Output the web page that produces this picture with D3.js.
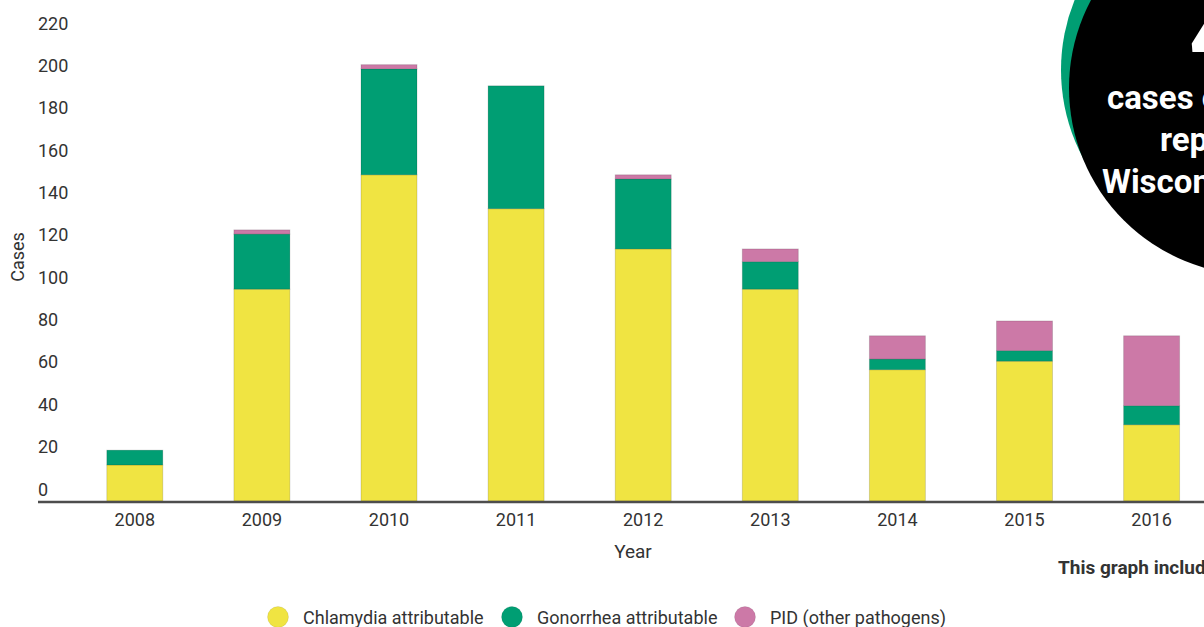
<!DOCTYPE html>
<html>
<head>
<meta charset="utf-8">
<script src="https://cdn.jsdelivr.net/npm/d3@7"></script>
<style>
  html, body { margin: 0; padding: 0; background: #fff; overflow: hidden; }
  svg { display: block; font-family: Roboto, "Noto Sans", sans-serif; }
</style>
</head>
<body>
<svg id="chart" width="1204" height="627"></svg>
<script>
// ---- data ----
const years = ["2008","2009","2010","2011","2012","2013","2014","2015","2016"];
const chlamydia = [17, 100, 154, 138, 119, 100, 62, 66, 36];
const gonorrhea = [7, 26, 50, 58, 33, 13, 5, 5, 9];
const pidOther  = [0, 2, 2, 0, 2, 6, 11, 14, 33];
const seriesNames = ["Chlamydia attributable", "Gonorrhea attributable", "PID (other pathogens)"];
const seriesColors = ["#F0E442", "#009E73", "#CC79A7"];
const yTicks = [0, 20, 40, 60, 80, 100, 120, 140, 160, 180, 200, 220];

const svg = d3.select("#chart");
const W = 1204, H = 627;

const rows = years.map((yr, i) => ({ year: yr, c: chlamydia[i], g: gonorrhea[i], p: pidOther[i] }));
const keys = ["c", "g", "p"];
const stack = d3.stack().keys(keys)(rows);

const step = 127.1;
const x = d3.scaleBand().domain(years)
  .range([71.25, 71.25 + step * years.length])
  .paddingInner(1 - 56 / step).paddingOuter((1 - 56 / step) / 2);
const y = d3.scaleLinear().domain([0, 220]).range([501, 35]);

// bars
const gBars = svg.append("g");
stack.forEach((layer, li) => {
  gBars.append("g").selectAll("rect").data(layer.filter(d => d[1] > d[0])).join("rect")
    .attr("x", d => x(d.data.year))
    .attr("width", x.bandwidth())
    .attr("y", d => y(d[1]))
    .attr("height", d => Math.max(0, y(d[0]) - y(d[1])))
    .attr("fill", seriesColors[li])
    .attr("stroke", "rgba(0,0,0,0.14)")
    .attr("stroke-width", 1);
});

// y axis (labels sit above their values)
const yAxis = d3.axisRight(y).tickValues(yTicks).tickSize(0).tickPadding(0);
const gy = svg.append("g").attr("transform", "translate(38,0)").call(yAxis);
gy.select(".domain").remove();
gy.selectAll("text")
  .attr("x", 0).attr("dy", "-6px")
  .attr("text-anchor", "start")
  .attr("fill", "#333").style("font-size", "18px")
  .style("font-family", "Roboto, sans-serif");

// x axis
const xAxis = d3.axisBottom(x).tickSize(0).tickPadding(11);
const gx = svg.append("g").attr("transform", "translate(0,502)").call(xAxis);
gx.select(".domain").remove();
gx.selectAll("text").attr("fill", "#333").style("font-size", "18px")
  .style("font-family", "Roboto, sans-serif");

svg.append("line").attr("x1", 38).attr("x2", W).attr("y1", 502).attr("y2", 502)
  .attr("stroke", "#4d4d4d").attr("stroke-width", 2.5);

// axis titles
svg.append("text").attr("x", 633).attr("y", 558).attr("text-anchor", "middle")
  .attr("fill", "#333").style("font-size", "19px").text("Year");
svg.append("text").attr("transform", "translate(24,257) rotate(-90)")
  .attr("text-anchor", "middle").attr("fill", "#333").style("font-size", "18px").text("Cases");

// note
svg.append("text").attr("x", 1058).attr("y", 574).attr("fill", "#333")
  .style("font-size", "19px").style("font-weight", "700")
  .text("This graph includes cases reported in Wisconsin");

// legend
const legendX = [278, 512, 745];
const lg = svg.append("g");
seriesNames.forEach((name, i) => {
  lg.append("circle").attr("cx", legendX[i]).attr("cy", 617).attr("r", 10.5)
    .attr("fill", seriesColors[i]).attr("stroke", "rgba(0,0,0,0.08)");
  lg.append("text").attr("x", legendX[i] + 25).attr("y", 623.5)
    .attr("fill", "#333").style("font-size", "18px").text(name);
});

// decorative badge top-right
const badge = svg.append("g");
badge.append("circle").attr("cx", 1248).attr("cy", 70).attr("r", 187).attr("fill", "#009E73");
badge.append("circle").attr("cx", 1256).attr("cy", 88).attr("r", 187).attr("fill", "#000");
badge.append("text").attr("x", 1189).attr("y", 68).attr("fill", "#fff")
  .style("font-size", "100px").style("font-weight", "700").text("4");
badge.append("text").attr("x", 1107).attr("y", 109).attr("fill", "#fff")
  .style("font-size", "33px").style("font-weight", "700").text("cases of PID");
badge.append("text").attr("x", 1160).attr("y", 151).attr("fill", "#fff")
  .style("font-size", "33px").style("font-weight", "700").text("reported in");
badge.append("text").attr("x", 1102).attr("y", 193).attr("fill", "#fff")
  .style("font-size", "33px").style("font-weight", "700").text("Wisconsin");
</script>
</body>
</html>
